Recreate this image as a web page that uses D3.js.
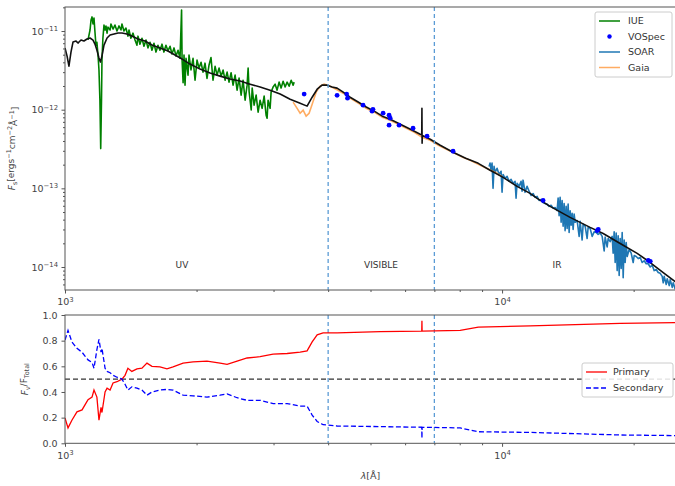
<!DOCTYPE html>
<html>
<head>
<meta charset="utf-8">
<script src="https://cdn.jsdelivr.net/npm/d3@7"></script>
<style>
  body { margin: 0; background: #fff; }
  svg { font-family: "DejaVu Sans", sans-serif; }
</style>
</head>
<body>
<svg id="chart" width="675" height="486"></svg>
<script>
// all spectra fluxes below are in units of 1e-12 erg s^-1 cm^-2 A^-1
const FLUX_UNIT = 1e-12;

// black model spectrum
const modelWave = [1000, 1011, 1021, 1032, 1043, 1060, 1071, 1088, 1105, 1123, 1141, 1159, 1171, 1183, 1196, 1205, 1215, 1228, 1248, 1268,
  1295, 1322, 1350, 1386, 1422, 1469, 1524, 1581, 1649, 1720, 1785, 1853, 1932, 2037, 2147, 2264, 2386, 2515, 2652, 2795,
  2946, 3106, 3274, 3451, 3580, 3677, 3775, 3873, 3977, 4083, 4193, 4330, 4491, 4685, 4888, 5100, 5321, 5546, 5788, 6040,
  6300, 6496, 6550, 6556, 6562, 6570, 6848, 7218, 7724, 8255, 8822, 9387, 10053, 10822, 11590, 12026, 12880, 14312, 15904, 17033,
  18630, 20376, 21823, 23372, 25030];
const modelFlux = [6.07, 4.8, 3.58, 5.4, 7.24, 7.45, 7.03, 7.68, 7.46, 7.91, 8.15, 7.68, 6.83, 5.73, 4.53, 4.03, 4.8, 6.63, 8.15, 8.89,
  9.16, 9.43, 9.43, 9.16, 8.64, 7.91, 7.46, 6.63, 6.07, 5.56, 4.95, 4.4, 3.8, 3.28, 2.92, 2.67, 2.45, 2.31, 2.11, 1.94,
  1.77, 1.58, 1.36, 1.21, 1.11, 1.44, 1.82, 2.05, 2.05, 1.94, 1.88, 1.67, 1.44, 1.25, 1.08, 0.957, 0.827, 0.757, 0.673, 0.598,
  0.532, 0.488, 0.48, 1.04, 0.374, 0.47, 0.421, 0.353, 0.288, 0.241, 0.208, 0.170, 0.138, 0.106, 0.0863, 0.0746, 0.059, 0.0427, 0.0319, 0.0267,
  0.0199, 0.0149, 0.0114, 0.0085, 0.00635];

// IUE ultraviolet spectrum
const iueWave = [1129, 1141, 1147, 1153, 1159, 1165, 1171, 1177, 1183, 1190, 1196, 1202, 1207, 1212, 1215, 1221, 1228, 1235, 1241, 1248,
  1254, 1268, 1274, 1288, 1301, 1315, 1329, 1343, 1350, 1364, 1379, 1393, 1401, 1415, 1431, 1446, 1461, 1469, 1484, 1500,
  1516, 1532, 1548, 1565, 1581, 1598, 1615, 1632, 1649, 1667, 1684, 1702, 1720, 1739, 1757, 1776, 1795, 1814, 1833, 1848,
  1853, 1863, 1872, 1882, 1892, 1912, 1922, 1942, 1963, 1984, 2005, 2026, 2048, 2069, 2091, 2113, 2136, 2158, 2181, 2205,
  2228, 2252, 2276, 2300, 2324, 2349, 2373, 2399, 2424, 2450, 2476, 2502, 2529, 2555, 2583, 2610, 2624, 2638, 2667, 2681,
  2708, 2737, 2766, 2795, 2825, 2855, 2885, 2900, 2915, 2946, 2962, 2993, 3025, 3057, 3089, 3122, 3155, 3189, 3223, 3257,
  3292, 3326, 3344];
const iueFlux = [7.7, 10.3, 13.8, 15.1, 12.3, 14.6, 9.7, 6.6, 7.2, 4.95, 3.2, 1.32, 0.32, 1.32, 4.3, 8.1, 11.9, 10.3, 11.6, 9.4,
  11.2, 10.3, 12.3, 10.6, 11.9, 10.0, 11.6, 10.3, 12.3, 10.0, 10.9, 8.6, 10.3, 8.1, 9.4, 7.7, 6.6, 8.6, 6.8, 8.1,
  6.4, 7.7, 6.1, 7.2, 5.7, 7.0, 5.4, 6.6, 5.7, 6.8, 5.4, 6.6, 5.6, 6.4, 5.1, 6.1, 4.8, 5.7, 4.5, 18.5,
  4.3, 2.2, 4.95, 2.05, 4.5, 2.75, 4.95, 3.2, 4.5, 2.37, 4.27, 3.38, 4.0, 3.0, 3.9, 2.5, 3.7, 4.6, 2.37, 3.55,
  2.75, 3.38, 2.67, 3.19, 2.37, 3.0, 2.24, 2.95, 2.05, 2.75, 1.77, 2.52, 1.53, 2.37, 1.32, 2.05, 3.38, 1.7, 0.99, 1.88,
  1.14, 1.53, 0.93, 1.32, 1.04, 1.49, 0.85, 0.78, 1.32, 1.04, 1.67, 1.94, 2.11, 1.77, 2.24, 1.88, 2.3, 1.94, 2.24, 1.99,
  2.37, 2.05, 2.24];

// Gaia spectrum
const gaiaWave = [3326, 3397, 3451, 3506, 3562, 3618, 3677, 3755, 3834, 3916, 4042, 4172, 4330, 4491, 4685, 4888, 5100, 5321, 5546, 5788,
  6040, 6300, 6561, 6848, 7150, 7460, 7790, 8130, 8455, 8822, 9210, 9638, 10000];
const gaiaFlux = [1.25, 1.04, 0.902, 0.986, 0.827, 0.90, 1.17, 1.67, 1.99, 2.11, 1.99, 1.82, 1.62, 1.40, 1.21, 1.04, 0.929, 0.803, 0.735, 0.653,
  0.581, 0.517, 0.447, 0.409, 0.353, 0.314, 0.279, 0.248, 0.227, 0.202, 0.18, 0.16, 0.142];

// SOAR infrared spectrum
const soarWave = [9338, 9387, 9437, 9486, 9536, 9587, 9638, 9740, 9843, 9948, 10000, 10053, 10159, 10267, 10375, 10485, 10596, 10709, 10765, 10822,
  10937, 11053, 11111, 11170, 11289, 11408, 11529, 11651, 11775, 11900, 12026, 12153, 12282, 12412, 12544, 12677, 12812, 12948, 13085, 13224,
  13364, 13435, 13506, 13577, 13649, 13721, 13794, 13867, 13940, 14014, 14088, 14163, 14237, 14312, 14388, 14464, 14541, 14618, 14695, 14851,
  15008, 15087, 15247, 15328, 15490, 15654, 15737, 15904, 16073, 16243, 16415, 16589, 16765, 16943, 17123, 17213, 17395, 17487, 17673, 17860,
  17954, 18049, 18145, 18241, 18337, 18434, 18532, 18630, 18729, 18828, 18928, 19028, 19128, 19229, 19331, 19536, 19743, 19952, 20058, 20270,
  20485, 20702, 20921, 21143, 21367, 21594, 21823, 22054, 22288, 22524, 22763, 23005, 23249, 23372, 23495, 23744, 23870, 24123, 24250, 24507,
  24637, 24898];
const soarFlux = [0.19, 0.21, 0.17, 0.21, 0.10, 0.19, 0.16, 0.18, 0.15, 0.165, 0.089, 0.15, 0.134, 0.142, 0.123, 0.13, 0.116, 0.123, 0.075, 0.116,
  0.106, 0.123, 0.092, 0.127, 0.089, 0.106, 0.092, 0.081, 0.086, 0.077, 0.079, 0.070, 0.072, 0.066, 0.064, 0.063, 0.059, 0.061, 0.056, 0.057,
  0.052, 0.075, 0.045, 0.077, 0.037, 0.070, 0.033, 0.064, 0.029, 0.059, 0.031, 0.063, 0.0275, 0.052, 0.034, 0.048, 0.030, 0.047, 0.037, 0.039,
  0.0245, 0.038, 0.022, 0.035, 0.033, 0.023, 0.032, 0.031, 0.0245, 0.028, 0.0275, 0.026, 0.027, 0.0245, 0.016, 0.024, 0.018, 0.023, 0.021, 0.0245,
  0.015, 0.028, 0.0114, 0.027, 0.009, 0.025, 0.0078, 0.023, 0.0096, 0.0275, 0.0073, 0.022, 0.0114, 0.0205, 0.0136, 0.0167, 0.015, 0.0114, 0.014, 0.0136,
  0.0128, 0.0132, 0.0114, 0.012, 0.011, 0.011, 0.010, 0.0105, 0.009, 0.0093, 0.0085, 0.0083, 0.0076, 0.0063, 0.0076, 0.006, 0.0071, 0.0058, 0.0069, 0.0055,
  0.0063, 0.0052];

// VOSpec photometry points
const vospecWave = [3525, 4193, 4410, 4430, 4808, 5041, 5065, 5343, 5514, 5546, 5514, 5812, 6256, 6736, 7724, 12412, 16503, 16600, 21594, 21830];
const vospecFlux = [1.58, 1.52, 1.58, 1.40, 1.14, 0.957, 1.01, 0.902, 0.851, 0.78, 0.635, 0.635, 0.581, 0.46, 0.296, 0.070, 0.029, 0.030, 0.0121, 0.0118];

// flux ratio of each component to the total
const ratioWave = [1000, 1016, 1037, 1065, 1094, 1111, 1129, 1153, 1165, 1183, 1196, 1209, 1215, 1235, 1248, 1268, 1288, 1315, 1350, 1372,
  1393, 1422, 1461, 1500, 1540, 1581, 1649, 1711, 1767, 1863, 1963, 2113, 2264, 2349, 2476, 2610, 2795, 2993, 3223, 3451,
  3580, 3677, 3775, 3895, 4193, 5261, 6550, 6556, 6562, 8021, 8822, 11590, 18630, 25000];
const primaryRatio = [0.197, 0.12, 0.18, 0.245, 0.26, 0.30, 0.34, 0.36, 0.415, 0.36, 0.18, 0.28, 0.24, 0.40, 0.43, 0.415, 0.47, 0.48, 0.50, 0.53,
  0.585, 0.56, 0.58, 0.585, 0.625, 0.60, 0.595, 0.58, 0.595, 0.625, 0.635, 0.64, 0.625, 0.615, 0.64, 0.665, 0.675, 0.695, 0.70, 0.71,
  0.72, 0.79, 0.845, 0.86, 0.86, 0.87, 0.875, 0.955, 0.875, 0.88, 0.905, 0.915, 0.935, 0.94];
const secondaryRatio = [0.805, 0.88, 0.79, 0.74, 0.71, 0.68, 0.65, 0.63, 0.585, 0.73, 0.81, 0.71, 0.74, 0.585, 0.56, 0.55, 0.53, 0.515, 0.50, 0.46,
  0.415, 0.44, 0.43, 0.415, 0.375, 0.40, 0.415, 0.42, 0.415, 0.375, 0.37, 0.36, 0.375, 0.385, 0.355, 0.335, 0.335, 0.31, 0.31, 0.29,
  0.29, 0.22, 0.17, 0.145, 0.135, 0.13, 0.125, 0.04, 0.125, 0.12, 0.09, 0.085, 0.065, 0.06];

// band boundaries and labels
const bandEdges = [4000, 7000];
const bandLabels = [{ text: "UV", wave: 1852 }, { text: "VISIBLE", wave: 5285 }, { text: "IR", wave: 13360 }];

const xMajor = [1000, 10000];
const xMinor = [2000, 3000, 4000, 5000, 6000, 7000, 8000, 9000, 20000];
const fluxMajor = [1e-14, 1e-13, 1e-12, 1e-11];
const ratioTicks = [0, 0.2, 0.4, 0.6, 0.8, 1.0];

const upper = { top: 7, bottom: 290 };
const lower = { top: 315, bottom: 443.3 };
const left = 65, right = 676;

const svg = d3.select("#chart");

const x = d3.scaleLog().domain([1000, 25000]).range([left, right]);
const yFlux = d3.scaleLog().domain([5.1e-15, 2.02e-11]).range([upper.bottom, upper.top]);
const yRatio = d3.scaleLinear().domain([0, 1]).range([lower.bottom, lower.top]);

const fluxMinor = [];
for (let e = -15; e <= -11; e++) {
  for (let k = 2; k <= 9; k++) {
    const v = k * Math.pow(10, e);
    if (v > 5.1e-15 && v < 2.02e-11) fluxMinor.push(v);
  }
}

// clip regions for both panels
const defs = svg.append("defs");
defs.append("clipPath").attr("id", "clipUpper").append("rect")
  .attr("x", left).attr("y", upper.top).attr("width", right - left).attr("height", upper.bottom - upper.top);
defs.append("clipPath").attr("id", "clipLower").append("rect")
  .attr("x", left).attr("y", lower.top).attr("width", right - left).attr("height", lower.bottom - lower.top);

function superscript(text, base, exp) {
  text.text("");
  text.append("tspan").text(base);
  text.append("tspan").attr("dy", "-0.5em").attr("font-size", "0.72em").text(exp);
}

function styleAxis(g) {
  g.attr("font-family", null).attr("font-size", 9.5);
  g.select(".domain").remove();
  g.selectAll(".tick line").attr("stroke", "#555");
  g.selectAll(".tick text").attr("fill", "#444");
}

function xAxis(yPos) {
  const g = svg.append("g").attr("transform", `translate(0,${yPos})`);
  g.call(d3.axisBottom(x).tickValues(xMajor).tickSize(3.5).tickPadding(5).tickFormat(""));
  styleAxis(g);
  g.selectAll(".tick text").each(function (d) {
    superscript(d3.select(this), "10", String(Math.round(Math.log10(d))));
  });
  const m = svg.append("g").attr("transform", `translate(0,${yPos})`);
  m.call(d3.axisBottom(x).tickValues(xMinor).tickSize(2).tickFormat(""));
  styleAxis(m);
}

const lineFlux = d3.line().x(d => x(d[0])).y(d => yFlux(d[1] * FLUX_UNIT));
const lineRatio = d3.line().x(d => x(d[0])).y(d => yRatio(d[1]));

// ---------- upper panel: spectral energy distribution ----------
const sed = svg.append("g").attr("clip-path", "url(#clipUpper)");

sed.append("path").datum(d3.zip(iueWave, iueFlux))
  .attr("fill", "none").attr("stroke", "green").attr("stroke-width", 1.6)
  .attr("stroke-linejoin", "round").attr("d", lineFlux);

sed.append("path").datum(d3.zip(soarWave, soarFlux))
  .attr("fill", "none").attr("stroke", "#1f77b4").attr("stroke-width", 1.6)
  .attr("stroke-linejoin", "round").attr("d", lineFlux);

sed.append("path").datum(d3.zip(gaiaWave, gaiaFlux))
  .attr("fill", "none").attr("stroke", "#ff7f0e").attr("stroke-opacity", 0.65).attr("stroke-width", 1.6)
  .attr("d", lineFlux);

sed.append("path").datum(d3.zip(modelWave, modelFlux))
  .attr("fill", "none").attr("stroke", "#111").attr("stroke-width", 1.6)
  .attr("stroke-linejoin", "round").attr("d", lineFlux);

sed.selectAll("circle").data(d3.zip(vospecWave, vospecFlux)).join("circle")
  .attr("cx", d => x(d[0])).attr("cy", d => yFlux(d[1] * FLUX_UNIT))
  .attr("r", 2.4).attr("fill", "blue");

sed.selectAll("line.band").data(bandEdges).join("line").attr("class", "band")
  .attr("x1", d => x(d)).attr("x2", d => x(d))
  .attr("y1", upper.top).attr("y2", upper.bottom)
  .attr("stroke", "#5b9bd5").attr("stroke-width", 1.3).attr("stroke-dasharray", "4,3");

svg.selectAll("text.band").data(bandLabels).join("text").attr("class", "band")
  .attr("x", d => x(d.wave)).attr("y", 268)
  .attr("text-anchor", "middle").attr("font-size", 9).attr("fill", "#333")
  .text(d => d.text);

svg.append("rect").attr("x", left).attr("y", upper.top)
  .attr("width", right - left).attr("height", upper.bottom - upper.top)
  .attr("fill", "none").attr("stroke", "#555");

xAxis(upper.bottom);

const yFluxAxis = svg.append("g").attr("transform", `translate(${left},0)`);
yFluxAxis.call(d3.axisLeft(yFlux).tickValues(fluxMajor).tickSize(3.5).tickPadding(3.5).tickFormat(""));
styleAxis(yFluxAxis);
yFluxAxis.selectAll(".tick text").each(function (d) {
  superscript(d3.select(this), "10", "\u2212" + Math.abs(Math.round(Math.log10(d))));
});
const yFluxMinor = svg.append("g").attr("transform", `translate(${left},0)`);
yFluxMinor.call(d3.axisLeft(yFlux).tickValues(fluxMinor).tickSize(2).tickFormat(""));
styleAxis(yFluxMinor);

const yLabel = svg.append("text")
  .attr("transform", `translate(15,${(upper.top + upper.bottom) / 2}) rotate(-90)`)
  .attr("text-anchor", "middle").attr("font-size", 9).attr("fill", "#444");
yLabel.append("tspan").attr("font-style", "italic").text("F");
yLabel.append("tspan").attr("dy", "0.3em").attr("font-size", "0.72em").text("s");
yLabel.append("tspan").attr("dy", "-0.3em").text("[ergs");
yLabel.append("tspan").attr("dy", "-0.45em").attr("font-size", "0.72em").text("\u22121");
yLabel.append("tspan").attr("dy", "0.45em").text("cm");
yLabel.append("tspan").attr("dy", "-0.45em").attr("font-size", "0.72em").text("\u22122");
yLabel.append("tspan").attr("dy", "0.45em").text("Å");
yLabel.append("tspan").attr("dy", "-0.45em").attr("font-size", "0.72em").text("\u22121");
yLabel.append("tspan").attr("dy", "0.45em").text("]");

// legend of the upper panel
const legendUpper = [
  { label: "IUE", color: "green", type: "line" },
  { label: "VOSpec", color: "blue", type: "dot" },
  { label: "SOAR", color: "#1f77b4", type: "line" },
  { label: "Gaia", color: "#ff7f0e", type: "line", opacity: 0.65 },
];
const lu = svg.append("g").attr("transform", "translate(595,12)");
lu.append("rect").attr("width", 77).attr("height", 65).attr("rx", 2)
  .attr("fill", "white").attr("fill-opacity", 0.85).attr("stroke", "#ccc");
legendUpper.forEach((d, i) => {
  const yy = 9 + i * 15.5;
  if (d.type === "line") {
    lu.append("line").attr("x1", 4).attr("x2", 25).attr("y1", yy).attr("y2", yy)
      .attr("stroke", d.color).attr("stroke-width", 1.5).attr("stroke-opacity", d.opacity || 1);
  } else {
    lu.append("circle").attr("cx", 14.5).attr("cy", yy).attr("r", 2.2).attr("fill", d.color);
  }
  lu.append("text").attr("x", 33).attr("y", yy).attr("dy", "0.35em")
    .attr("font-size", 9.5).attr("fill", "#333").text(d.label);
});

// ---------- lower panel: flux fractions ----------
const frac = svg.append("g").attr("clip-path", "url(#clipLower)");

frac.append("line").attr("x1", left).attr("x2", right)
  .attr("y1", yRatio(0.5)).attr("y2", yRatio(0.5))
  .attr("stroke", "#333").attr("stroke-width", 1.3).attr("stroke-dasharray", "5,3");

frac.selectAll("line.band").data(bandEdges).join("line").attr("class", "band")
  .attr("x1", d => x(d)).attr("x2", d => x(d))
  .attr("y1", lower.top).attr("y2", lower.bottom)
  .attr("stroke", "#5b9bd5").attr("stroke-width", 1.3).attr("stroke-dasharray", "4,3");

frac.append("path").datum(d3.zip(ratioWave, primaryRatio))
  .attr("fill", "none").attr("stroke", "red").attr("stroke-width", 1.3).attr("d", lineRatio);

frac.append("path").datum(d3.zip(ratioWave, secondaryRatio))
  .attr("fill", "none").attr("stroke", "blue").attr("stroke-width", 1.3)
  .attr("stroke-dasharray", "5,2.5").attr("d", lineRatio);

svg.append("rect").attr("x", left).attr("y", lower.top)
  .attr("width", right - left).attr("height", lower.bottom - lower.top)
  .attr("fill", "none").attr("stroke", "#555");

xAxis(lower.bottom);

const yRatioAxis = svg.append("g").attr("transform", `translate(${left},0)`);
yRatioAxis.call(d3.axisLeft(yRatio).tickValues(ratioTicks).tickSize(3.5).tickPadding(4).tickFormat(d3.format(".1f")));
styleAxis(yRatioAxis);

const rLabel = svg.append("text")
  .attr("transform", `translate(28,${(lower.top + lower.bottom) / 2}) rotate(-90)`)
  .attr("text-anchor", "middle").attr("font-size", 9).attr("fill", "#444");
rLabel.append("tspan").attr("font-style", "italic").text("F");
rLabel.append("tspan").attr("dy", "0.3em").attr("font-size", "0.72em").text("ν");
rLabel.append("tspan").attr("dy", "-0.3em").text("/F");
rLabel.append("tspan").attr("dy", "0.3em").attr("font-size", "0.72em").text("Total");

const xLabel = svg.append("text").attr("x", (left + right) / 2).attr("y", 479)
  .attr("text-anchor", "middle").attr("font-size", 9.5).attr("fill", "#444");
xLabel.append("tspan").attr("font-style", "italic").text("λ");
xLabel.append("tspan").text("[Å]");

// legend of the lower panel
const legendLower = [
  { label: "Primary", color: "red", dash: null },
  { label: "Secondary", color: "blue", dash: "5,2.5" },
];
const ll = svg.append("g").attr("transform", "translate(582,363)");
ll.append("rect").attr("width", 91).attr("height", 34).attr("rx", 2)
  .attr("fill", "white").attr("fill-opacity", 0.85).attr("stroke", "#ccc");
legendLower.forEach((d, i) => {
  const yy = 9 + i * 16;
  ll.append("line").attr("x1", 4).attr("x2", 25).attr("y1", yy).attr("y2", yy)
    .attr("stroke", d.color).attr("stroke-width", 1.3).attr("stroke-dasharray", d.dash);
  ll.append("text").attr("x", 31).attr("y", yy).attr("dy", "0.35em")
    .attr("font-size", 9.5).attr("fill", "#333").text(d.label);
});
</script>
</body>
</html>
